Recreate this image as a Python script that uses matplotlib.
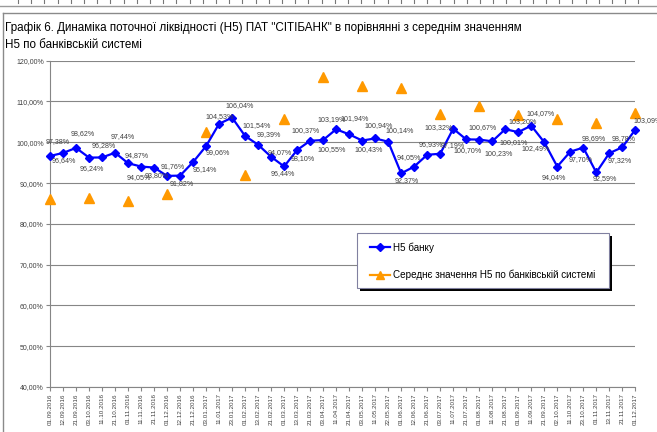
import matplotlib
matplotlib.use('Agg')
import matplotlib.pyplot as plt
import numpy as np
from matplotlib.lines import Line2D
from matplotlib.patches import Rectangle
from matplotlib.ticker import FuncFormatter

nan = np.nan

dates = ['01.09.2016', '12.09.2016', '21.09.2016', '03.10.2016', '11.10.2016', '21.10.2016',
         '01.11.2016', '11.11.2016', '21.11.2016', '01.12.2016', '12.12.2016', '21.12.2016',
         '03.01.2017', '11.01.2017', '23.01.2017', '01.02.2017', '13.02.2017', '21.02.2017',
         '01.03.2017', '13.03.2017', '21.03.2017', '03.04.2017', '11.04.2017', '21.04.2017',
         '03.05.2017', '11.05.2017', '22.05.2017', '01.06.2017', '12.06.2017', '21.06.2017',
         '03.07.2017', '11.07.2017', '21.07.2017', '01.08.2017', '11.08.2017', '21.08.2017',
         '01.09.2017', '11.09.2017', '21.09.2017', '02.10.2017', '11.10.2017', '23.10.2017',
         '01.11.2017', '13.11.2017', '21.11.2017', '01.12.2017']

h5_bank = [96.64, 97.38, 98.62, 96.24, 96.28, 97.44, 94.87, 94.05, 93.80, 91.76, 91.82, 95.14,
           99.06, 104.53, 106.04, 101.54, 99.39, 96.44, 94.07, 98.10, 100.37, 100.55, 103.19, 101.94,
           100.43, 100.94, 100.14, 92.37, 94.05, 96.93, 97.19, 103.32, 100.70, 100.67, 100.23, 103.20,
           102.49, 104.07, 100.01, 94.04, 97.70, 98.69, 92.59, 97.32, 98.78, 103.09]

h5_system = [86.0, nan, nan, 86.25, nan, nan, 85.6, nan, nan, 87.25, nan, nan,
             102.4, nan, nan, 92.0, nan, nan, 105.6, nan, nan, 116.0, nan, nan,
             113.9, nan, nan, 113.25, nan, nan, 107.0, nan, nan, 108.9, nan, nan,
             106.7, nan, nan, 105.75, nan, nan, 104.75, nan, nan, 107.1]

y_ticks = [40, 50, 60, 70, 80, 90, 100, 110, 120]

title_1 = 'Графік 6. Динаміка поточної ліквідності (Н5) ПАТ "СІТІБАНК" в порівнянні з середнім значенням'
title_2 = 'Н5 по банківській системі'
legend_bank = 'Н5 банку'
legend_system = 'Середнє значення Н5 по банківській системі'

# label offsets in pixels (dx right, dy down) - style only
label_offsets = [(14, 5), (-5, -11), (7, -14), (3, 11), (2, -12), (8, -16), (9, -8), (-2, 11),
                 (3, 8), (6, -9), (2, 8), (12, 7), (12, 6), (1, -7), (8, -12), (12, -10),
                 (11, -10), (12, 17), (-4, -14), (6, 9), (-5, -10), (9, 10), (-4, -10), (6, -16),
                 (7, 9), (4, -13), (12, -11), (6, 7), (-5, -9), (4, -10), (13, -8), (-15, -1),
                 (1, 11), (3, -12), (6, 12), (17, -8), (17, 16), (9, -12), (-31, 0), (-3, 11),
                 (10, 8), (10, -9), (9, 6), (10, 7), (1, -9), (12, -9)]

W, H = 657, 432
plt.rcParams['font.family'] = ['Liberation Sans', 'DejaVu Sans']
fig = plt.figure(figsize=(W / 100, H / 100), dpi=100)

def fx(px):
    return px / W

def fy(py):
    return 1 - py / H

# outer frame pieces
fig.add_artist(Line2D([fx(0), fx(657)], [fy(5.5), fy(5.5)], color='#9a9a9a', lw=1))
fig.add_artist(Line2D([fx(2.5), fx(657)], [fy(13), fy(13)], color='#8a8a8a', lw=1))
fig.add_artist(Line2D([fx(2.5), fx(2.5)], [fy(13), fy(432)], color='#8a8a8a', lw=1))
for k in range(49):
    xx = 18 + 13.2 * k
    if xx < 650:
        fig.add_artist(Line2D([fx(xx), fx(xx)], [fy(0), fy(2.5)], color='#777777', lw=0.8))

fig.text(fx(5), fy(28), title_1, fontsize=8.35, va='center', ha='left', color='#000000')
fig.text(fx(5), fy(45), title_2, fontsize=8.35, va='center', ha='left', color='#000000')

ax = fig.add_axes([fx(50), fy(387), fx(635.3) - fx(50), fy(60.7) - fy(387)])
x = np.arange(len(dates))

ax.plot(x, h5_system, color='#FF9900', marker='^', markersize=7, lw=1.5, linestyle='-',
        zorder=3, clip_on=False)
ax.plot(x, h5_bank, color='#0000FF', marker='D', markersize=4.5, lw=1.6, zorder=4, clip_on=False)

for i, v in enumerate(h5_bank):
    dx, dy = label_offsets[i]
    ax.annotate(f'{v:.2f}%'.replace('.', ','), (x[i], v), xytext=(dx, -dy),
                textcoords='offset pixels', ha='center', va='center', fontsize=5.1,
                color='#404040', zorder=5, annotation_clip=False)

ax.set_xlim(0, len(dates) - 1)
ax.set_ylim(40, 120)
ax.set_yticks(y_ticks)
ax.yaxis.set_major_formatter(FuncFormatter(lambda v, p: f'{v:.2f}%'.replace('.', ',')))
ax.set_xticks(x)
ax.set_xticklabels(dates, rotation=90, fontsize=4.5, color='#404040')
ax.tick_params(axis='y', labelsize=5, labelcolor='#404040', length=3, width=0.8,
               color='#868686', pad=1.5)
ax.tick_params(axis='x', length=3, width=0.8, color='#868686', pad=1.5)
ax.grid(axis='y', color='#868686', lw=0.8)
ax.set_axisbelow(True)
for s in ['top', 'right']:
    ax.spines[s].set_visible(False)
for s in ['left', 'bottom']:
    ax.spines[s].set_color('#868686')
    ax.spines[s].set_linewidth(0.8)

# legend box (manual)
lx0, ly0, lx1, ly1 = 357, 233, 609, 288
fig.add_artist(Rectangle((fx(lx0 + 2.5), fy(ly1 + 2.5)), fx(lx1) - fx(lx0), fy(ly0) - fy(ly1),
                         facecolor='#000000', edgecolor='none', zorder=10))
fig.add_artist(Rectangle((fx(lx0), fy(ly1)), fx(lx1) - fx(lx0), fy(ly0) - fy(ly1),
                         facecolor='white', edgecolor='#8080a0', lw=0.8, zorder=11))
for yy, col, mk, ms, lab in [(247.5, '#0000FF', 'D', 4.5, legend_bank),
                             (275, '#FF9900', '^', 6, legend_system)]:
    fig.add_artist(Line2D([fx(370), fx(390)], [fy(yy), fy(yy)], color=col, lw=1.6, zorder=12))
    fig.add_artist(Line2D([fx(380)], [fy(yy)], color=col, marker=mk, markersize=ms, zorder=12))
    fig.text(fx(393), fy(yy), lab, fontsize=7.1, va='center', ha='left', color='#000000',
             zorder=13)

fig.savefig('out.png', dpi=100)
